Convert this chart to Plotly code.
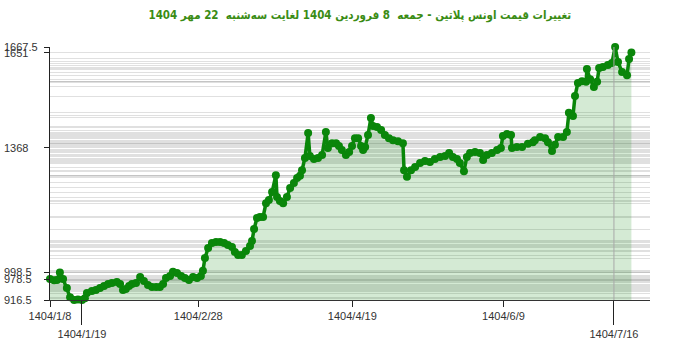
import plotly.graph_objects as go

# Day offsets from 1404/1/8 and platinum ounce prices (USD)
days = [0, 1.4, 2.4, 3.4, 4.5, 5.8, 6.9, 8.3, 9.6, 11.0, 12.0, 12.7, 14.4, 15.8, 17.2, 18.6,
        20.0, 21.3, 23.0, 24.1, 25.1, 26.1, 27.2, 28.2, 29.6, 31.0, 32.3, 33.7, 35.1, 36.5,
        37.8, 38.9, 39.9, 41.3, 42.3, 43.7, 45.1, 46.4, 47.8, 49.2, 50.6, 51.9, 52.6, 53.3,
        54.4, 55.7, 57.1, 58.5, 59.9, 61.2, 62.6, 63.6, 64.7, 66.0, 67.4, 68.8, 69.5, 70.2,
        71.2, 72.2, 73.3, 74.3, 75.3, 76.4, 77.7, 78.1, 79.1, 80.2, 81.5, 82.6, 83.9, 85.0,
        86.0, 86.7, 87.7, 88.8, 89.4, 90.8, 92.2, 93.6, 94.9, 95.6, 97.0, 98.4, 99.4, 100.4,
        101.8, 102.9, 103.9, 104.9, 106.0, 107.0, 107.7, 108.4, 109.4, 110.4, 111.1, 112.5,
        113.9, 115.2, 116.6, 118.0, 119.7, 121.4, 121.8, 122.8, 124.2, 125.6, 127.3, 129.0,
        130.7, 132.4, 134.2, 135.9, 137.3, 138.6, 140.0, 141.0, 142.4, 143.4, 144.5, 146.2,
        147.9, 149.0, 150.3, 152.0, 153.8, 155.1, 155.8, 157.2, 158.6, 158.9, 160.6, 162.4,
        164.4, 166.1, 166.8, 168.6, 170.3, 171.3, 172.7, 173.7, 174.8, 176.5, 177.8, 178.5,
        179.9, 180.6, 181.6, 183.0, 184.4, 184.7, 185.8, 187.1, 188.2, 188.9, 190.2, 191.9,
        193.3, 194.4, 195.4, 196.8, 198.5, 199.2, 200.0]
prices = [978.5, 975, 976, 998.5, 979, 952, 925, 916.5, 918, 916.5, 922, 937, 943, 946, 952, 958,
          964, 967, 970, 964, 946, 949, 958, 964, 967, 985, 973, 961, 955, 955,
          955, 964, 982, 988, 1000, 997, 988, 982, 976, 985, 982, 988, 1003, 1041,
          1071, 1086, 1089, 1089, 1086, 1080, 1074, 1059, 1050, 1050, 1062, 1077, 1092, 1127,
          1160, 1163, 1163, 1204, 1213, 1237, 1287, 1222, 1210, 1204, 1222, 1249, 1264, 1279,
          1285, 1302, 1338, 1412, 1344, 1335, 1338, 1347, 1415, 1368, 1382, 1382, 1374, 1362,
          1347, 1356, 1374, 1397, 1397, 1374, 1362, 1371, 1406, 1457, 1433, 1430,
          1421, 1406, 1397, 1391, 1388, 1382, 1302, 1282, 1302, 1311, 1323, 1329,
          1326, 1335, 1341, 1344, 1353, 1341, 1335, 1323, 1299, 1341, 1353, 1356,
          1353, 1332, 1347, 1353, 1362, 1368, 1403, 1409, 1406, 1368, 1371, 1371,
          1380, 1385, 1391, 1400, 1397, 1385, 1359, 1377, 1400, 1400, 1415, 1472,
          1463, 1522, 1561, 1566, 1564, 1602, 1572, 1549, 1564, 1605, 1608, 1614,
          1620, 1667.5, 1623, 1593, 1584, 1632, 1651]

y_labels = [916.5, 978.5, 998.5, 1368, 1651, 1667.5]
x_ticks_upper = ["1404/1/8", "1404/2/28", "1404/4/19", "1404/6/9"]
x_ticks_lower = ["1404/1/19", "1404/7/16"]
start_label = "1404/1/8"
title = "تغییرات قیمت اونس پلاتین - جمعه  8 فروردین 1404 لغایت سه‌شنبه  22 مهر 1404"


def doy(lbl):
    _, m, d = (int(p) for p in lbl.split("/"))
    return (m - 1) * 31 + d if m <= 7 else 186 + (m - 7) * 30 + d


def off(lbl):
    return doy(lbl) - doy(start_label)


x_range = [0, 206.4]
y_range = [min(prices), max(prices)]

fig = go.Figure()
fig.add_trace(go.Scatter(
    x=days, y=prices, mode="lines+markers",
    line=dict(color="#0a860a", width=3.5),
    marker=dict(color="#0a860a", size=8),
    fill="tozeroy", fillcolor="rgba(0,128,0,0.17)",
    cliponaxis=False, showlegend=False, hoverinfo="x+y",
))
# helper trace so the overlaid axes exist
fig.add_trace(go.Scatter(x=[off(t) for t in x_ticks_lower], y=[None, None],
                         xaxis="x2", yaxis="y2", showlegend=False, hoverinfo="skip"))

fig.add_vline(x=off(x_ticks_lower[-1]), line_color="#a8a8a8", line_width=1, layer="above")

font = dict(family="Liberation Sans, Arial", size=11, color="#333")

fig.update_layout(
    width=700, height=352,
    margin=dict(l=50, r=50, t=47, b=52),
    paper_bgcolor="white", plot_bgcolor="white",
    title=dict(text="<b>" + title + "</b>", x=0.514, xanchor="center", y=0.957, yanchor="middle",
               font=dict(family="DejaVu Sans Condensed, DejaVu Sans", size=11.5, color="#3a8c14")),
    xaxis=dict(range=x_range, tickmode="array",
               tickvals=[off(t) for t in x_ticks_upper], ticktext=x_ticks_upper,
               ticks="outside", ticklen=6, tickcolor="#222", showgrid=False, zeroline=False,
               showline=True, linecolor="#333", linewidth=1, tickfont=font),
    xaxis2=dict(range=x_range, overlaying="x", side="bottom", tickmode="array",
                tickvals=[off(t) for t in x_ticks_lower], ticktext=x_ticks_lower,
                ticks="outside", ticklen=24, tickcolor="#222", showgrid=False, zeroline=False,
                showline=False, tickfont=font),
    yaxis=dict(range=y_range, tickmode="array", tickvals=prices, showticklabels=False,
               ticks="", showgrid=True, gridcolor="rgba(0,0,0,0.12)", gridwidth=1,
               zeroline=False, showline=False),
    yaxis2=dict(range=y_range, overlaying="y", tickmode="array", tickvals=y_labels,
                showticklabels=False, ticks="outside", ticklen=5, tickcolor="#222",
                showgrid=False, zeroline=False, showline=True, linecolor="#222", linewidth=1),
)

for v in y_labels:
    lbl = ("%g" % v)
    fig.add_annotation(x=0, xref="paper", xshift=-48, xanchor="left", y=v, yref="y",
                       text=lbl, showarrow=False, font=font)

fig.write_html("out.html")
